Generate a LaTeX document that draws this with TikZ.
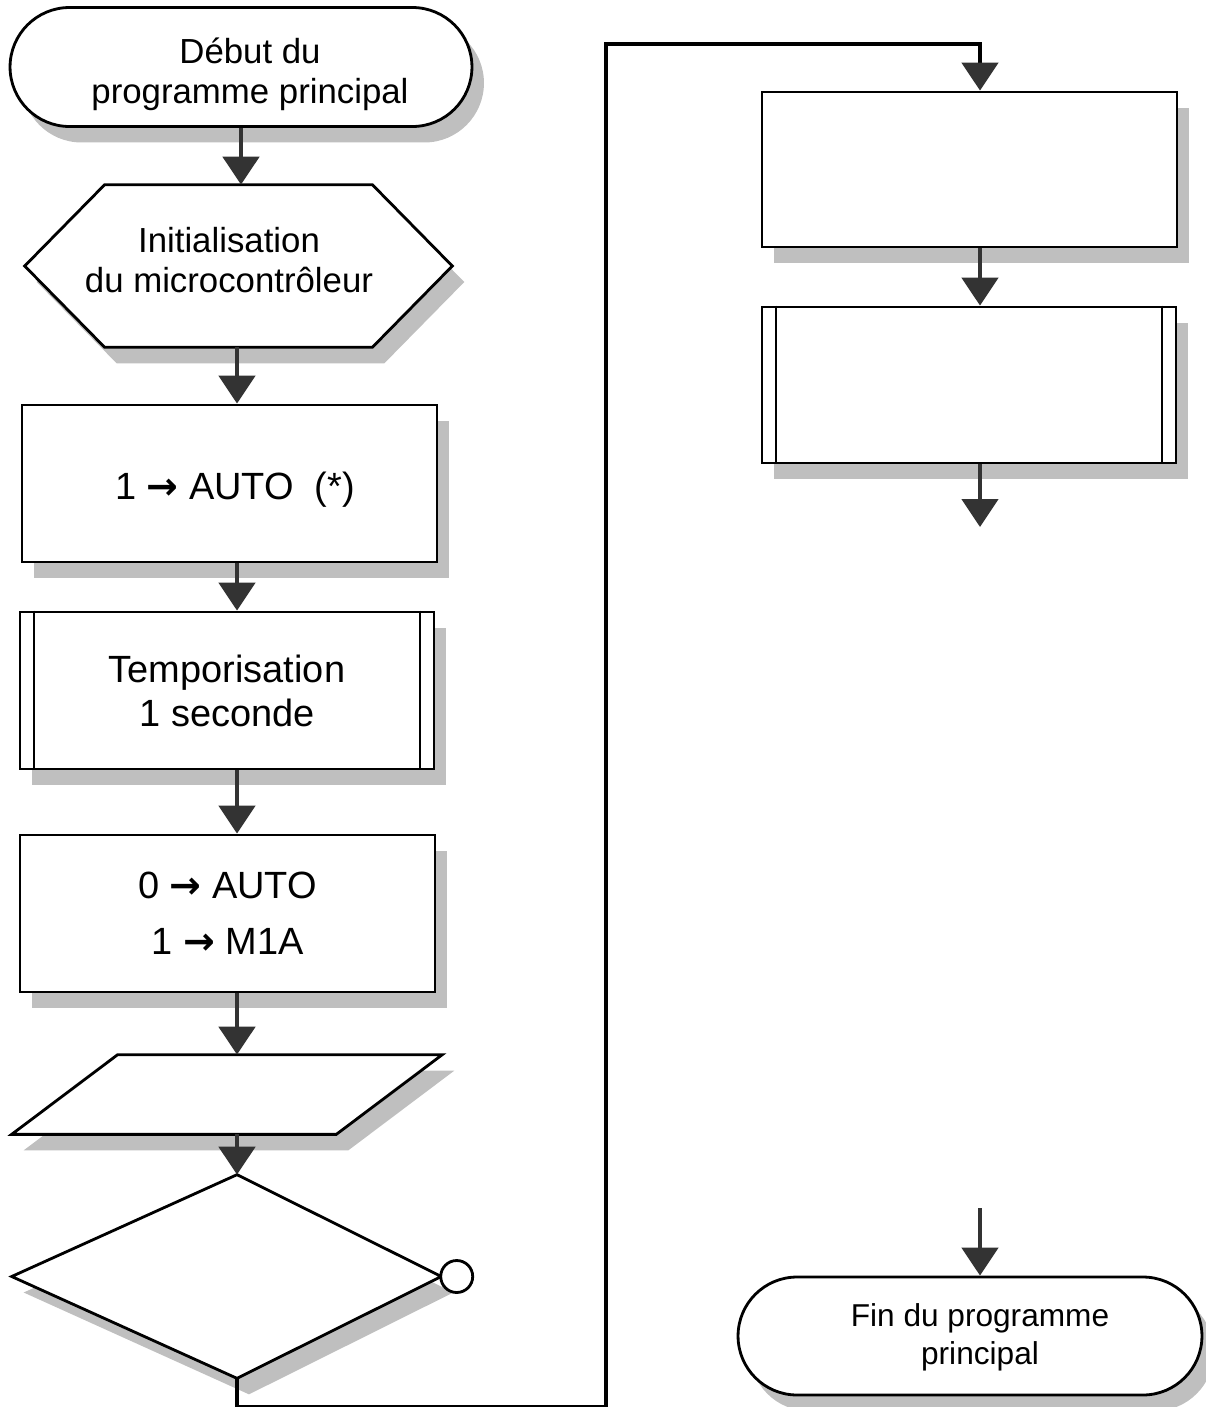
\documentclass[tikz,border=0pt]{standalone}
\usepackage{fontspec}
\setmainfont{Liberation Sans}
\newfontfamily\flechefont{DejaVu Sans}
\newcommand\fleche{{\flechefont\bfseries →}}
\usetikzlibrary{positioning,arrows.meta,shapes.geometric,shapes.misc,shadows}

\begin{document}
\begin{tikzpicture}[
  x=0.02cm, y=-0.02cm,
  font=\fontsize{19.8}{22.7}\selectfont,
  shade/.style={drop shadow={shadow xshift=0.24cm, shadow yshift=-0.32cm, fill=black!25, opacity=1}},
  box/.style={draw, line width=1.6pt, fill=white, inner sep=0pt, align=center, shade},
  term/.style={box, rounded rectangle},
  frame/.style={inner sep=0pt, align=center},
  outline/.style={line width=1.6pt, fill=white, shade},
  proc/.style={box, rectangle, minimum width=8.3cm, minimum height=3.14cm, font=\fontsize{21.6}{25}\selectfont},
  flow/.style={-{Triangle[length=0.56cm, width=0.72cm, color=black!80]}, line width=2.8pt, black!80},
  back/.style={flow, black},
]
\useasboundingbox (0,0) rectangle (1206,1407);

% Left column, top to bottom.
\node[term, minimum width=9.24cm, minimum height=2.38cm] (start) at (241,67) {};
\node[frame] (starttxt) at (250,74) {Début du\\programme principal};
\node[frame, minimum width=8.54cm, minimum height=3.24cm] (init) at (238.5,266) {};
\node[proc] (auto) at (229.5,483.5) {};
\node[frame, font=\fontsize{21.6}{25}\selectfont] (autotxt) at (235,490) {1 \fleche{} AUTO\ \ (*)};
\node[proc, minimum width=8.28cm] (tempo) at (227,690.5) {Temporisation\\1 seconde};
\node[proc, font=\fontsize{21.6}{31.8}\selectfont] (moteur) at (227.5,913.5) {0 \fleche{} AUTO\\1 \fleche{} M1A};
\node[frame, minimum width=8.6cm, minimum height=1.58cm] (lire) at (227,1094.5) {};
\node[frame, minimum width=8.58cm, minimum height=4.06cm] (test) at (226.5,1276.5) {};

% Preparation hexagon and its text.
\draw[outline] (init.west) -- ([xshift=1.6cm]init.north west) -- ([xshift=-1.6cm]init.north east)
  -- (init.east) -- ([xshift=-1.6cm]init.south east) -- ([xshift=1.6cm]init.south west) -- cycle;
\node[frame] (inittxt) at (229,260) {Initialisation\\du microcontrôleur};

% Input/output parallelogram.
\draw[outline] ([xshift=2.12cm]lire.north west) -- (lire.north east)
  -- ([xshift=-2.12cm]lire.south east) -- (lire.south west) -- cycle;

% Decision diamond, tips on the flow column.
\coordinate (colL) at (237,0);
\draw[outline] (test.west) -- (test.north -| colL) -- (test.east) -- (test.south -| colL) -- cycle;
\node[circle, draw, line width=1.6pt, fill=white, minimum size=0.64cm, inner sep=0pt, anchor=west] (sortie) at ([xshift=-0.04cm]test.east) {};

% Right column.
\node[proc, minimum height=3.1cm] (action) at (969.5,169.5) {};
\node[proc, minimum width=8.28cm, minimum height=3.12cm] (sousprog) at (969,385) {};
\node[term, minimum width=9.28cm, minimum height=2.36cm] (fin) at (970,1336) {};
\node[frame, font=\fontsize{18}{21.6}\selectfont] (fintxt) at (980,1337) {Fin du programme\\principal};

% Sub-program bars.
\foreach \n in {tempo,sousprog}
  \draw[line width=1.1pt] ([xshift=0.3cm]\n.north west) -- ([xshift=0.3cm]\n.south west)
    ([xshift=-0.3cm]\n.north east) -- ([xshift=-0.3cm]\n.south east);

% Column helpers and free ends.
\coordinate (colR) at (980,0);
\coordinate (suite) at (980,527);
\coordinate (arrivee) at (980,1208);
\coordinate (bas) at (606,1407);
\coordinate (haut) at (606,44);

% Connectors.
\draw[flow] (start.south) -- (start.south |- init.north);
\draw[flow] (init.south -| colL) -- (auto.north -| colL);
\draw[flow] (auto.south -| colL) -- (tempo.north -| colL);
\draw[flow] (tempo.south -| colL) -- (moteur.north -| colL);
\draw[flow] (moteur.south -| colL) -- (lire.north -| colL);
\draw[flow] (lire.south -| colL) -- (test.north -| colL);
\draw[back] (test.south -| colL) |- (bas) -- (haut) -| (action.north -| colR);
\draw[flow] (action.south -| colR) -- (sousprog.north -| colR);
\draw[flow] (sousprog.south -| colR) -- (suite);
\draw[flow] (arrivee) -- (fin.north -| colR);

\end{tikzpicture}
\end{document}
